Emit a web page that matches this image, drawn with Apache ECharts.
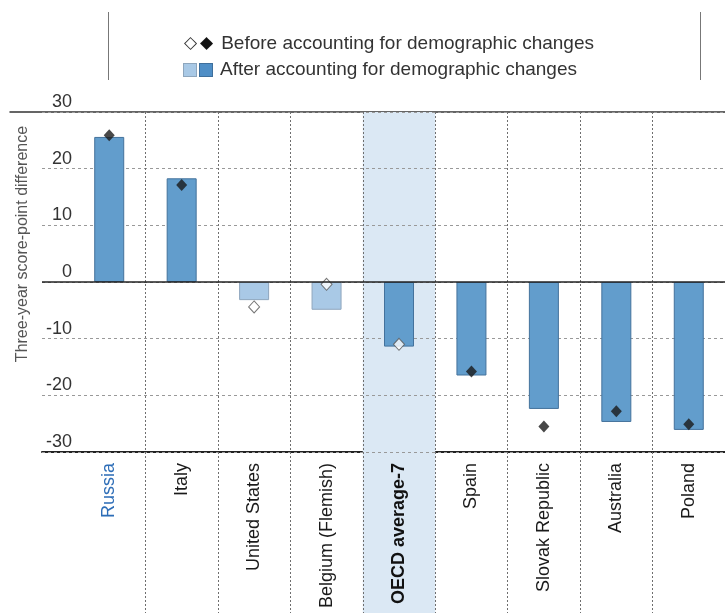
<!DOCTYPE html>
<html>
<head>
<meta charset="utf-8">
<script src="https://cdn.jsdelivr.net/npm/echarts@6/dist/echarts.min.js"></script>
<style>
  html, body { margin: 0; padding: 0; background: #fff; }
  #chart { width: 725px; height: 613px; }
</style>
</head>
<body>
<div id="chart"></div>
<script>
// data
const categories = ['Russia', 'Italy', 'United States', 'Belgium (Flemish)', 'OECD average-7', 'Spain', 'Slovak Republic', 'Australia', 'Poland'];
const afterValues = [25.6, 18.3, -3.2, -4.9, -11.4, -16.5, -22.4, -24.7, -26.1];
const beforeValues = [25.9, 17.1, -4.4, -0.4, -11.0, -15.8, -25.5, -22.8, -25.1];
const afterSignificant = [true, true, false, false, true, true, true, true, true];
const beforeSignificant = [true, true, false, false, false, true, true, true, true];
const highlighted = 'OECD average-7';
const yMin = -30, yMax = 30, yStep = 10;

const chart = echarts.init(document.getElementById('chart'));

const darkBar = { color: '#629dcc', borderColor: '#44729c', borderWidth: 1 };
const lightBar = { color: '#a9c9e6', borderColor: '#8ea6bd', borderWidth: 1 };
const shade = '#dbe8f4';
const font = 'Liberation Sans';
// vertical separators between countries
const sepLine = { show: true, showMinLine: false, interval: 0, lineStyle: { color: '#6e6e6e', type: [2, 2], width: 1 } };

const option = {
  animation: false,
  title: {
    left: 179,
    top: 26,
    text: '{od|◇}{fd|◆}Before accounting for demographic changes\n{ls| }{gap| }{ds| }{gap2| }After accounting for demographic changes',
    textStyle: {
      fontFamily: font, fontSize: 19, fontWeight: 'normal', color: '#333', lineHeight: 26,
      rich: {
        od: { fontFamily: 'DejaVu Sans', fontSize: 17, color: '#333', padding: [0, 3, 0, 0] },
        fd: { fontFamily: 'DejaVu Sans', fontSize: 17, color: '#111', padding: [0, 8, 0, 0] },
        ls: { backgroundColor: '#a9c9e6', borderColor: '#8ea6bd', borderWidth: 1, width: 12, height: 12 },
        gap: { width: 4 },
        ds: { backgroundColor: '#4f8ec6', borderColor: '#3f6f9c', borderWidth: 1, width: 12, height: 12 },
        gap2: { width: 8 }
      }
    }
  },
  graphic: [
    { type: 'line', shape: { x1: 108.5, y1: 12, x2: 108.5, y2: 80 }, style: { stroke: '#777', lineWidth: 1 } },
    { type: 'line', shape: { x1: 700.5, y1: 12, x2: 700.5, y2: 80 }, style: { stroke: '#777', lineWidth: 1 } }
  ],
  grid: [
    { left: 73, top: 112, width: 662, height: 340 },
    { left: 42, top: 112, right: 0, height: 340 },
    { left: 10, top: 112, right: 0, height: 340 },
    { left: 73, top: 452, width: 662, bottom: 0 }
  ],
  xAxis: [
    {
      gridIndex: 0, type: 'category', data: categories, position: 'bottom', z: 1,
      axisLine: { show: false, onZero: false },
      axisTick: { show: false },
      splitLine: sepLine,
      axisLabel: {
        interval: 0, rotate: 90, margin: 11,
        fontFamily: font, fontSize: 18, color: '#1a1a1a',
        formatter: (v) => v === 'Russia' ? '{ru|' + v + '}' : (v === highlighted ? '{hl|' + v + '}' : v),
        rich: {
          ru: { fontFamily: font, fontSize: 18, color: '#2d6db7' },
          hl: { fontFamily: font, fontSize: 18, color: '#111', fontWeight: 'bold' }
        }
      }
    },
    { gridIndex: 0, type: 'category', data: categories, show: false },
    {
      gridIndex: 1, type: 'value', min: 0, max: 1, position: 'bottom',
      axisLine: { show: true, onZero: false, lineStyle: { color: '#222', width: 2 } },
      axisTick: { show: false }, axisLabel: { show: false }, splitLine: { show: false }
    },
    {
      gridIndex: 2, type: 'value', min: 0, max: 1, position: 'top',
      axisLine: { show: true, onZero: false, lineStyle: { color: '#333', width: 1.5 } },
      axisTick: { show: false }, axisLabel: { show: false }, splitLine: { show: false }
    },
    {
      gridIndex: 3, type: 'category', data: categories, z: 1,
      axisLine: { show: false, onZero: false }, axisTick: { show: false }, axisLabel: { show: false },
      splitLine: sepLine
    }
  ],
  yAxis: [
    {
      gridIndex: 0, type: 'value', min: yMin, max: yMax, interval: yStep,
      axisLine: { show: false }, axisTick: { show: false }, splitLine: { show: false },
      axisLabel: {
        margin: 1, fontFamily: font, fontSize: 18, color: '#333',
        verticalAlign: 'bottom', padding: [0, 0, 1, 0]
      },
      name: 'Three-year score-point difference',
      nameLocation: 'middle', nameGap: 42,
      nameTextStyle: { fontFamily: font, fontSize: 16, color: '#555', padding: [0, 0, 0, 76] }
    },
    {
      gridIndex: 1, type: 'value', min: yMin, max: yMax, interval: yStep, z: 1,
      axisLine: { show: false }, axisTick: { show: false }, axisLabel: { show: false },
      splitLine: { show: true, lineStyle: { color: '#999', type: [3, 3], width: 1 } }
    },
    { gridIndex: 2, type: 'value', min: yMin, max: yMax, show: false },
    { gridIndex: 3, type: 'value', min: 0, max: 1, show: false }
  ],
  series: [
    {
      type: 'bar', xAxisIndex: 1, yAxisIndex: 0, stack: 'shade', barWidth: '100%', z: 0, silent: true,
      itemStyle: { color: shade },
      data: categories.map(c => c === highlighted ? yMax : null)
    },
    {
      type: 'bar', xAxisIndex: 1, yAxisIndex: 0, stack: 'shade', barWidth: '100%', z: 0, silent: true,
      itemStyle: { color: shade },
      data: categories.map(c => c === highlighted ? yMin : null)
    },
    {
      type: 'bar', xAxisIndex: 4, yAxisIndex: 3, barWidth: '100%', z: 0, silent: true,
      itemStyle: { color: shade },
      data: categories.map(c => c === highlighted ? 1 : null)
    },
    {
      name: 'After accounting for demographic changes',
      type: 'bar', xAxisIndex: 0, yAxisIndex: 0, barWidth: 30, z: 2,
      data: afterValues.map((v, i) => ({ value: v, itemStyle: afterSignificant[i] ? darkBar : lightBar }))
    },
    {
      type: 'line', xAxisIndex: 2, yAxisIndex: 1, data: [], z: 3, silent: true,
      markLine: {
        silent: true, symbol: 'none', label: { show: false },
        lineStyle: { color: '#222', type: 'solid', width: 1.5 },
        data: [{ yAxis: 0 }]
      }
    },
    {
      name: 'Before accounting for demographic changes',
      type: 'scatter', xAxisIndex: 0, yAxisIndex: 0, symbol: 'diamond', symbolSize: [11, 12], z: 4,
      data: beforeValues.map((v, i) => ({
        value: v,
        itemStyle: beforeSignificant[i]
          ? { color: '#1a1a1a', borderColor: '#1a1a1a', borderWidth: 0 }
          : { color: '#fff', borderColor: '#555', borderWidth: 1 }
      }))
    }
  ]
};

chart.setOption(option);
</script>
</body>
</html>
